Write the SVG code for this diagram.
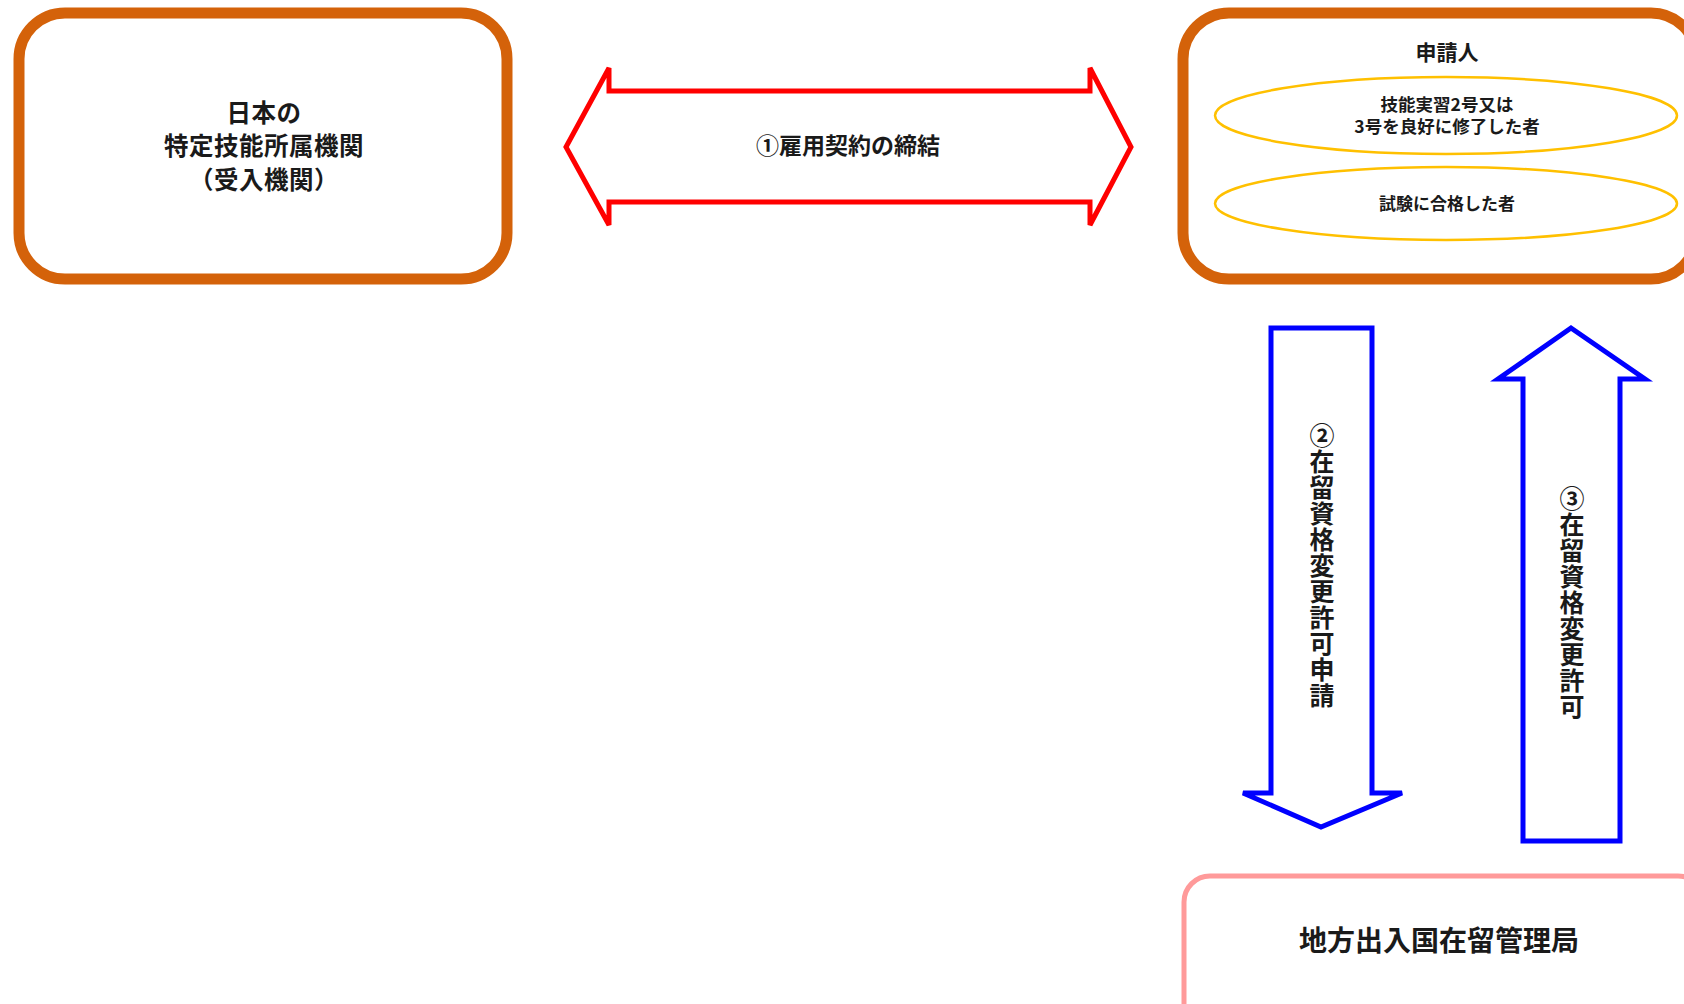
<svg xmlns="http://www.w3.org/2000/svg" width="1684" height="1004" viewBox="0 0 1684 1004">
<style>
.t{font-family:"Noto Sans CJK JP","Noto Sans CJK SC",sans-serif;fill:#1a1a1a;text-anchor:middle;font-weight:bold}
.v{writing-mode:vertical-rl;text-orientation:upright;letter-spacing:1px}
.org{fill:#fff;stroke:#D4620A;stroke-width:11}
.ell{fill:none;stroke:#FFC000;stroke-width:2.5}
.red{fill:#fff;stroke:#FF0000;stroke-width:5;stroke-linejoin:miter}
.blue{fill:#fff;stroke:#0000FF;stroke-width:5;stroke-linejoin:miter}
</style>
<rect width="1684" height="1004" fill="#fff"/>
<g id="accepting-org">
<rect class="org" x="19" y="13" width="488" height="266" rx="46" ry="46"/>
<text class="t" font-size="24.5" letter-spacing="0.5"><tspan x="264" y="122">日本の</tspan><tspan x="264" y="155">特定技能所属機関</tspan><tspan x="264" y="188.5">（受入機関）</tspan></text>
</g>
<g id="applicant">
<rect class="org" x="1183" y="13" width="514" height="266" rx="46" ry="46"/>
<text class="t" x="1447" y="60" font-size="21">申請人</text>
<ellipse class="ell" cx="1446" cy="115.5" rx="231" ry="38.5"/>
<text class="t" font-size="17.5"><tspan x="1447" y="111">技能実習2号又は</tspan><tspan x="1447" y="133">3号を良好に修了した者</tspan></text>
<ellipse class="ell" cx="1446" cy="203.5" rx="231" ry="36.5"/>
<text class="t" x="1447" y="210" font-size="17">試験に合格した者</text>
</g>
<g id="immigration">
<rect x="1184" y="876" width="520" height="160" rx="26" ry="26" fill="#fff" stroke="#FF9A9A" stroke-width="5"/>
<text class="t" x="1439" y="951" font-size="28">地方出入国在留管理局</text>
</g>
<g id="connectors">
<g id="contract">
<polygon class="red" points="566,147 609,68 609,91 1090,91 1090,68 1131,147 1090,225 1090,202 609,202 609,225"/>
<text class="t" x="848" y="154" font-size="23">①雇用契約の締結</text>
</g>
<g id="application">
<polygon class="blue" points="1271,328 1372,328 1372,793 1402,793 1321,827 1243,793 1271,793"/>
<text class="t v" x="1322" y="566" font-size="25">②在留資格変更許可申請</text>
</g>
<g id="permission">
<polygon class="blue" points="1571,328 1645,379 1620,379 1620,841 1523,841 1523,379 1498,379"/>
<text class="t v" x="1572" y="603" font-size="25">③在留資格変更許可</text>
</g>
</g>
</svg>
